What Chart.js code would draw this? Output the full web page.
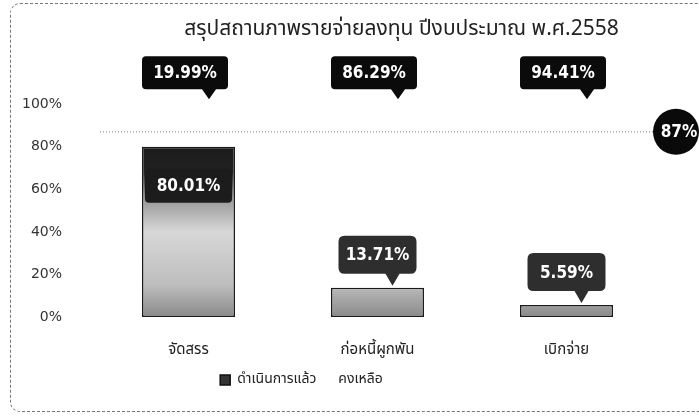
<!DOCTYPE html>
<html lang="th">
<head>
  <meta charset="UTF-8">
  <title>สรุปสถานภาพรายจ่ายลงทุน</title>
  <script src="https://cdn.jsdelivr.net/npm/chart.js"></script>
  <style>
    html, body { margin: 0; padding: 0; background: #fff; }
    .wrap { position: relative; width: 699px; height: 418px; overflow: hidden; }
    .frame { position: absolute; left: 10px; top: 3px; width: 720px; height: 407px;
             border: 1px dashed #777; border-radius: 10px; }
    canvas { position: absolute; left: 0; top: 0; }
  </style>
</head>
<body>
<div class="wrap">
  <div class="frame"></div>
  <canvas id="grafico" width="699" height="418"></canvas>
</div>
<script>
var categorias = ['จัดสรร', 'ก่อหนี้ผูกพัน', 'เบิกจ่าย']
var series = ['ดำเนินการแล้ว', 'คงเหลือ']
var done = [80.01, 13.71, 5.59]
var remain = [19.99, 86.29, 94.41]
var yTicks = [0, 20, 40, 60, 80, 100]
var target = 87

var thaiFont = "'Noto Sans Thai', 'Tahoma', 'DejaVu Sans', sans-serif"
var numFont = "'DejaVu Sans Condensed', 'DejaVu Sans', sans-serif"

function barGradient(context) {
  var chart = context.chart
  var area = chart.chartArea
  if (!area) return '#666'
  var y = chart.scales.y
  var g = chart.ctx.createLinearGradient(0, y.getPixelForValue(100), 0, y.getPixelForValue(0))
  g.addColorStop(0, '#111')
  g.addColorStop(0.32, '#222')
  g.addColorStop(0.45, '#9a9a9a')
  g.addColorStop(0.6, '#d8d8d8')
  g.addColorStop(0.85, '#bdbdbd')
  g.addColorStop(1, '#8a8a8a')
  return g
}

function bubble(ctx, x, y, w, h, r, tipX, tipY, fill) {
  ctx.beginPath()
  ctx.moveTo(x + r, y)
  ctx.lineTo(x + w - r, y)
  ctx.quadraticCurveTo(x + w, y, x + w, y + r)
  ctx.lineTo(x + w, y + h - r)
  ctx.quadraticCurveTo(x + w, y + h, x + w - r, y + h)
  if (tipX != null) {
    ctx.lineTo(tipX + 7, y + h)
    ctx.lineTo(tipX, tipY)
    ctx.lineTo(tipX - 7, y + h)
  }
  ctx.lineTo(x + r, y + h)
  ctx.quadraticCurveTo(x, y + h, x, y + h - r)
  ctx.lineTo(x, y + r)
  ctx.quadraticCurveTo(x, y, x + r, y)
  ctx.closePath()
  ctx.fillStyle = fill
  ctx.fill()
}

// callouts, target line and badge
var extras = {
  id: 'extras',
  afterLayout: function (chart) {
    // the original legend and title sit off-centre
    chart.legend.left -= 40
    chart.legend.right -= 40
    chart.titleBlock.left += 60
    chart.titleBlock.right += 60
  },
  afterDatasetsDraw: function (chart) {
    var ctx = chart.ctx
    var area = chart.chartArea
    var ys = chart.scales.y
    var bars = chart.getDatasetMeta(0).data

    // target dotted line
    var ty = ys.getPixelForValue(target)
    ctx.save()
    ctx.strokeStyle = '#777'
    ctx.lineWidth = 1
    ctx.setLineDash([1, 2])
    ctx.beginPath()
    ctx.moveTo(area.left + 6, ty)
    ctx.lineTo(area.right - 4, ty)
    ctx.stroke()
    ctx.setLineDash([])
    ctx.beginPath()
    ctx.arc(area.right + 15, ty, 23, 0, Math.PI * 2)
    ctx.fillStyle = '#0a0a0a'
    ctx.fill()
    ctx.fillStyle = '#fff'
    ctx.font = 'bold 17px ' + numFont
    ctx.textAlign = 'center'
    ctx.textBaseline = 'middle'
    ctx.fillText(target + '%', area.right + 18, ty + 1)

    for (var i = 0; i < bars.length; i++) {
      var b = bars[i]
      var left = b.x - b.width / 2

      // remaining value, above the plot
      var bw = 86, bh = 33
      var by = area.top - 48
      bubble(ctx, left, by, bw, bh, 4, left + 67, area.top - 5, '#0b0b0b')
      ctx.fillStyle = '#fff'
      ctx.font = 'bold 17px ' + numFont
      ctx.fillText(remain[i].toFixed(2) + '%', left + bw / 2, by + bh / 2 + 1)

      // done value, at the bar top
      var label = done[i].toFixed(2) + '%'
      if (b.base - b.y > 80) {
        bubble(ctx, left + 3, b.y + 22, b.width - 6, 34, 4, null, null, '#1c1c1c')
        ctx.fillStyle = '#fff'
        ctx.fillText(label, b.x, b.y + 40)
      } else {
        var cw = 78, ch = 38
        var cy = b.y - 14 - ch
        bubble(ctx, b.x - cw / 2, cy, cw, ch, 6, b.x + 15, b.y - 2, '#2e2e2e')
        ctx.fillStyle = '#fff'
        ctx.fillText(label, b.x, cy + ch / 2 + 1)
      }
    }
    ctx.restore()
  }
}

new Chart(document.getElementById('grafico'), {
  type: 'bar',
  data: {
    labels: categorias,
    datasets: [{
      label: series[0],
      data: done,
      backgroundColor: barGradient,
      borderColor: '#1a1a1a',
      borderWidth: 1.5,
      borderSkipped: false,
      barPercentage: 0.6,
      categoryPercentage: 0.82
    }, {
      label: series[1],
      data: remain,
      backgroundColor: 'rgba(0,0,0,0)',
      borderWidth: 0,
      barPercentage: 0.6,
      categoryPercentage: 0.82
    }]
  },
  options: {
    responsive: false,
    animation: false,
    layout: { padding: { left: 22, right: 38, top: 0, bottom: 21 } },
    plugins: {
      title: {
        display: true,
        text: 'สรุปสถานภาพรายจ่ายลงทุน ปีงบประมาณ พ.ศ.2558',
        color: '#222',
        font: { family: thaiFont, size: 21, weight: 'normal' },
        padding: { top: 18, bottom: 61 }
      },
      legend: {
        position: 'bottom',
        labels: {
          color: '#222',
          boxWidth: 10,
          boxHeight: 10,
          padding: 5,
          font: { family: thaiFont, size: 14 },
          generateLabels: function (chart) {
            var items = Chart.defaults.plugins.legend.labels.generateLabels(chart)
            items[0].fillStyle = '#333'
            items[0].strokeStyle = '#111'
            items[1].fillStyle = 'rgba(0,0,0,0)'
            items[1].strokeStyle = 'rgba(0,0,0,0)'
            return items
          }
        }
      },
      tooltip: { enabled: false }
    },
    scales: {
      x: {
        stacked: true,
        grid: { display: false, drawTicks: false },
        border: { display: false },
        ticks: { color: '#222', padding: 25, font: { family: thaiFont, size: 15 } },
        afterFit: function (scale) { scale.height = 51 }
      },
      y: {
        stacked: true,
        min: 0,
        max: 100,
        grid: { display: false, drawTicks: false },
        border: { display: false },
        afterBuildTicks: function (scale) {
          scale.ticks = yTicks.map(function (v) { return { value: v } })
        },
        ticks: {
          color: '#333',
          padding: 32,
          font: { family: 'DejaVu Sans', size: 14 },
          callback: function (v) { return v + '%' }
        },
        afterFit: function (scale) { scale.width = 72 }
      }
    }
  },
  plugins: [extras]
})
</script>
</body>
</html>
